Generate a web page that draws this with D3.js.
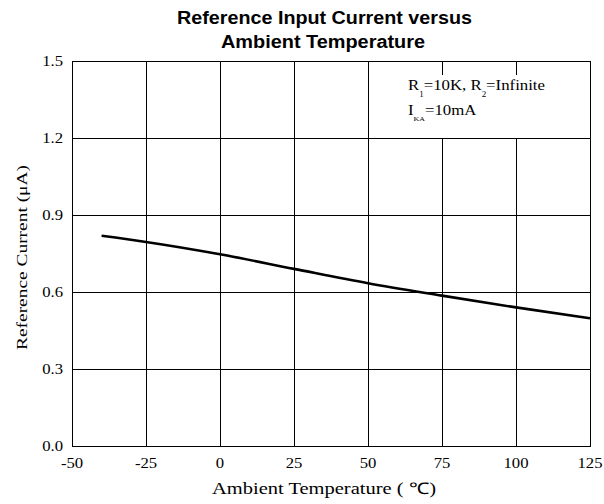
<!DOCTYPE html>
<html>
<head>
<meta charset="utf-8">
<script src="https://cdn.jsdelivr.net/npm/d3@7"></script>
<style>
	body { margin: 0; background: #fff; }
</style>
</head>
<body>
<svg id="chart"></svg>
<script>
// values
const temperatures = [-40, -25, 0, 25, 50, 75, 100, 125];
const refCurrent = [0.819, 0.795, 0.747, 0.690, 0.634, 0.586, 0.540, 0.498];
const xTicks = [-50, -25, 0, 25, 50, 75, 100, 125];
const yTicks = [0.0, 0.3, 0.6, 0.9, 1.2, 1.5];

const width = 604;
const height = 504;
const margin = { top: 61, right: 14, bottom: 58, left: 72 };
const serif = "Liberation Serif, Times New Roman, serif";
const stretch = 1.15; // reference text is a bit wide

const svg = d3.select("#chart")
	.attr("width", width)
	.attr("height", height);

const x = d3.scaleLinear()
	.domain([-50, 125])
	.range([margin.left, width - margin.right]);

const y = d3.scaleLinear()
	.domain([0, 1.5])
	.range([height - margin.bottom, margin.top]);

// grid
svg.append("g")
	.selectAll("line")
	.data(xTicks)
	.enter().append("line")
	.attr("x1", d => Math.round(x(d)) + 0.5)
	.attr("x2", d => Math.round(x(d)) + 0.5)
	.attr("y1", y(0) + 0.5)
	.attr("y2", y(1.5) + 0.5)
	.attr("stroke", "#000")
	.attr("stroke-width", 1);

svg.append("g")
	.selectAll("line")
	.data(yTicks)
	.enter().append("line")
	.attr("x1", x(-50))
	.attr("x2", x(125) + 1)
	.attr("y1", d => Math.round(y(d)) + 0.5)
	.attr("y2", d => Math.round(y(d)) + 0.5)
	.attr("stroke", "#000")
	.attr("stroke-width", 1);

// white box behind the conditions text
svg.append("rect")
	.attr("x", 378)
	.attr("y", 75)
	.attr("width", Math.round(x(125)) - 378)
	.attr("height", Math.round(y(1.2)) - 75)
	.attr("fill", "#fff");

// axis tick labels
svg.append("g")
	.selectAll("text")
	.data(yTicks)
	.enter().append("text")
	.attr("transform", d => `translate(${margin.left - 9}, ${y(d) + 5}) scale(${stretch}, 1)`)
	.attr("text-anchor", "end")
	.style("font-family", serif)
	.style("font-size", "14.5px")
	.text(d => d.toFixed(1));

svg.append("g")
	.selectAll("text")
	.data(xTicks)
	.enter().append("text")
	.attr("transform", d => `translate(${x(d)}, ${y(0) + 22}) scale(${stretch}, 1)`)
	.attr("text-anchor", "middle")
	.style("font-family", serif)
	.style("font-size", "14.5px")
	.text(d => d);

// curve
const line = d3.line()
	.x((d, i) => x(temperatures[i]))
	.y(d => y(d))
	.curve(d3.curveMonotoneX);

svg.append("path")
	.datum(refCurrent)
	.attr("d", line)
	.attr("fill", "none")
	.attr("stroke", "#000")
	.attr("stroke-width", 2.6);

// title
const titleStyle = sel => sel
	.attr("text-anchor", "middle")
	.attr("lengthAdjust", "spacingAndGlyphs")
	.style("font-family", "Liberation Sans, Arial, sans-serif")
	.style("font-weight", "bold")
	.style("font-size", "18px");

svg.append("text").call(titleStyle)
	.attr("x", 324.5).attr("y", 23.5)
	.attr("textLength", 295)
	.text("Reference Input Current versus");
svg.append("text").call(titleStyle)
	.attr("x", 323).attr("y", 48)
	.attr("textLength", 204)
	.text("Ambient Temperature");

// axis titles
svg.append("text")
	.attr("x", 324)
	.attr("y", 494)
	.attr("text-anchor", "middle")
	.attr("textLength", 224)
	.attr("lengthAdjust", "spacingAndGlyphs")
	.style("font-family", serif)
	.style("font-size", "16px")
	.text("Ambient Temperature ( \u2103)");

svg.append("text")
	.attr("transform", `translate(27, 257.5) rotate(-90)`)
	.attr("text-anchor", "middle")
	.attr("textLength", 185)
	.attr("lengthAdjust", "spacingAndGlyphs")
	.style("font-family", serif)
	.style("font-size", "15.5px")
	.text("Reference Current (\u03bcA)");

// conditions text
const cond = svg.append("g")
	.attr("transform", "translate(408, 0) scale(1.12, 1)")
	.style("font-family", serif)
	.style("font-size", "15px");

const l1 = cond.append("text").attr("x", 0).attr("y", 90.5);
l1.append("tspan").text("R");
l1.append("tspan").attr("dy", 7).style("font-size", "8px").text("1");
l1.append("tspan").attr("dy", -7).text("=10K, R");
l1.append("tspan").attr("dy", 7).style("font-size", "8px").text("2");
l1.append("tspan").attr("dy", -7).text("=Infinite");

const l2 = cond.append("text").attr("x", 0).attr("y", 115);
l2.append("tspan").text("I");
l2.append("tspan").attr("dy", 6.5).style("font-size", "7px").text("KA");
l2.append("tspan").attr("dy", -6.5).text("=10mA");
</script>
</body>
</html>
